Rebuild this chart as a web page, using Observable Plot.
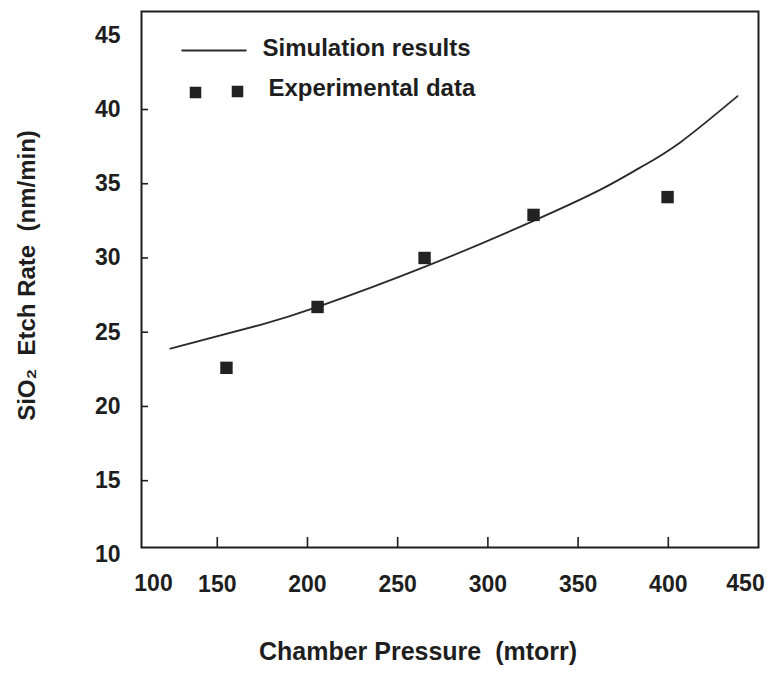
<!DOCTYPE html>
<html><head><meta charset="utf-8">
<script src="https://cdn.jsdelivr.net/npm/d3@7"></script>
<script src="https://cdn.jsdelivr.net/npm/@observablehq/plot@0.6"></script>
<style>body{margin:0;background:#fff}</style>
</head><body><div id="chart"></div>
<script>
// Simulation curve (chamber pressure in mtorr, SiO2 etch rate in nm/min)
const simPressure = [124, 174, 205.6, 264.9, 325.3, 362.4, 384.6, 406.8, 438.4];
const simRate     = [23.9, 25.5, 26.7, 29.4, 32.5, 34.6, 36.1, 37.8, 40.9];
// Experimental data
const expPressure = [155.1, 205.6, 264.9, 325.3, 399.6];
const expRate     = [22.6, 26.7, 30.0, 32.9, 34.1];
// Axes
const xDomain = [108, 450];
const yDomain = [10.5, 46.6];
const xTickValues = [150, 200, 250, 300, 350, 400];
const xEdgeLabels = ["100", "450"];
const yTickLabels = [10, 15, 20, 25, 30, 35, 40, 45];
const yTickMarks = [15, 20, 25, 30, 35, 40];
const legendLabels = ["Simulation results", "Experimental data"];
const xTitle = "Chamber Pressure\u00a0\u00a0(mtorr)";
const yTitle = "SiO\u2082\u00a0\u00a0Etch Rate\u00a0\u00a0(nm/min)";

const W = 769, H = 679, mL = 141, mR = 11, mT = 11, mB = 132;
const plotW = W - mL - mR, plotH = H - mT - mB;
const ink = "#1e1e1e";
const font = "'Liberation Sans', Arial, Helvetica, sans-serif";

const sim = simPressure.map((p, i) => ({p, r: simRate[i]}));
const exp = expPressure.map((p, i) => ({p, r: expRate[i]}));

const legendLine = {draw(ctx) { ctx.moveTo(-32.5, 0); ctx.lineTo(32.5, 0); }};
const bold = {fontWeight: "bold"};

const chart = Plot.plot({
  width: W, height: H,
  marginLeft: mL, marginRight: mR, marginTop: mT, marginBottom: mB,
  style: {fontFamily: font, background: "#fff", color: ink},
  x: {domain: xDomain},
  y: {domain: yDomain},
  marks: [
    Plot.frame({stroke: ink, strokeWidth: 2}),
    Plot.tickX(xTickValues, {x: d => d, insetTop: plotH - 10, stroke: ink, strokeWidth: 1.6}),
    Plot.tickY(yTickMarks, {y: d => d, insetRight: plotW - 7, stroke: ink, strokeWidth: 1.6}),
    Plot.axisX(xTickValues, {tickSize: 0, tickPadding: 28, fontSize: 23, ...bold, label: null}),
    Plot.text([xDomain[0]], {x: d => d, text: () => xEdgeLabels[0], frameAnchor: "bottom", lineAnchor: "middle", textAnchor: "middle", dy: 36, dx: 12, fontSize: 23, ...bold}),
    Plot.text([xDomain[1]], {x: d => d, text: () => xEdgeLabels[1], frameAnchor: "bottom", lineAnchor: "middle", textAnchor: "middle", dy: 36, dx: -13, fontSize: 23, ...bold}),
    Plot.axisY(yTickLabels, {tickSize: 0, tickPadding: 21, fontSize: 23, ...bold, label: null}),
    Plot.text([xTitle], {text: d => d, frameAnchor: "bottom", lineAnchor: "middle", textAnchor: "middle", dy: 104, dx: -32, fontSize: 25, ...bold}),
    Plot.text([yTitle], {text: d => d, frameAnchor: "left", lineAnchor: "middle", textAnchor: "middle", dx: -114, dy: -4, rotate: -90, fontSize: 24, ...bold}),
    Plot.line(sim, {x: "p", y: "r", curve: "natural", stroke: "#2a2a2a", strokeWidth: 1.8}),
    Plot.dot(exp, {x: "p", y: "r", symbol: "square", r: 7, fill: "#222", stroke: "none"}),
    // legend
    Plot.dot([legendLabels[0]], {frameAnchor: "top-left", dx: 72.5, dy: 39, symbol: legendLine, fill: "none", stroke: "#2a2a2a", strokeWidth: 1.8}),
    Plot.text([legendLabels[0]], {text: d => d, frameAnchor: "top-left", lineAnchor: "middle", textAnchor: "start", dx: 121, dy: 37, fontSize: 24, ...bold}),
    Plot.dot([legendLabels[1]], {frameAnchor: "top-left", dx: 54, dy: 81, symbol: "square", r: 6.5, fill: "#222", stroke: "none"}),
    Plot.dot([legendLabels[1]], {frameAnchor: "top-left", dx: 96, dy: 80, symbol: "square", r: 6.5, fill: "#222", stroke: "none"}),
    Plot.text([legendLabels[1]], {text: d => d, frameAnchor: "top-left", lineAnchor: "middle", textAnchor: "start", dx: 127, dy: 77, fontSize: 24, ...bold})
  ]
});
document.getElementById("chart").append(chart);
</script>
</body></html>
